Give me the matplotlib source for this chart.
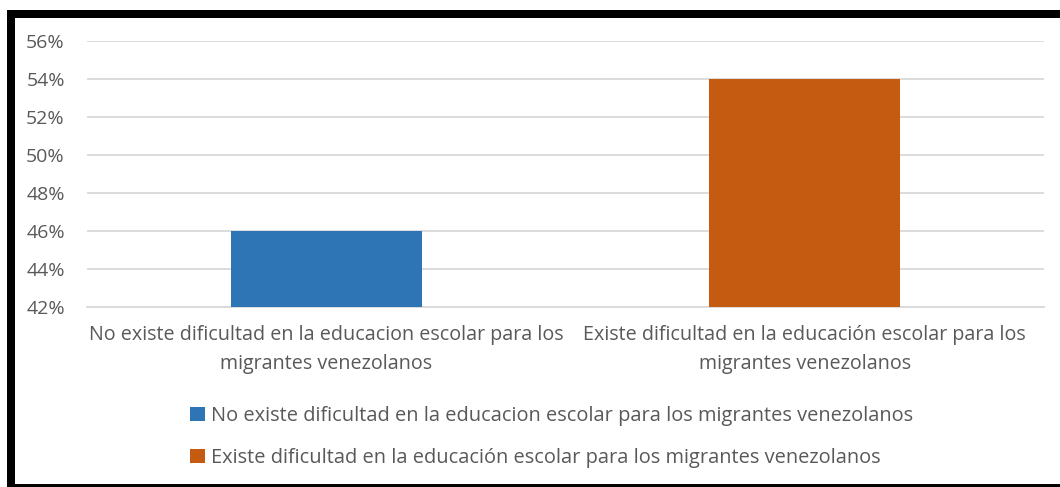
import matplotlib
matplotlib.use("Agg")
import matplotlib.pyplot as plt
from matplotlib.patches import Rectangle, Patch

categories = ["No existe dificultad en la educacion escolar para los\nmigrantes venezolanos",
              "Existe dificultad en la educación escolar para los\nmigrantes venezolanos"]
legend_labels = ["No existe dificultad en la educacion escolar para los migrantes venezolanos",
                 "Existe dificultad en la educación escolar para los migrantes venezolanos"]
values = [0.46, 0.54]
colors = ["#2E75B6", "#C55A11"]
yticks = [0.42, 0.44, 0.46, 0.48, 0.50, 0.52, 0.54, 0.56]

plt.rcParams['font.family'] = ['Open Sans', 'DejaVu Sans']
W, H = 1060, 487
fig = plt.figure(figsize=(W/100, H/100), dpi=100)
ax = fig.add_axes([87/W, 1-307/H, (1044-87)/W, (307-41)/H])

x = list(range(len(values)))
ax.bar(x, [v - 0.42 for v in values], bottom=0.42, width=0.40, color=colors, zorder=3)
ax.set_xlim(-0.5, 1.5)
ax.set_ylim(0.42, 0.56)
ax.set_yticks(yticks)
ax.set_yticklabels([f"{round(t*100)}%" for t in yticks])
ax.set_xticks(x)
ax.set_xticklabels(categories, fontsize=14.2, color="#595959", linespacing=1.6)
ax.tick_params(axis='y', labelsize=14, labelcolor="#595959", length=0, pad=16)
ax.tick_params(axis='x', length=0, pad=13)
ax.grid(axis='y', color="#D9D9D9", linewidth=1.3, zorder=0)
for s in ["top", "right", "left"]:
    ax.spines[s].set_visible(False)
ax.spines["bottom"].set_color("#D9D9D9")
ax.spines["bottom"].set_linewidth(1.3)

handles = [Patch(facecolor=c, edgecolor='none') for c in colors]
fig.legend(handles, legend_labels, loc='center', bbox_to_anchor=(552/W, 1-437/H),
           ncol=1, frameon=False, fontsize=14.4, labelcolor="#595959",
           handlelength=0.75, handleheight=0.75, handletextpad=0.3, labelspacing=1.1)

# black frame
fig.patches.append(Rectangle((7/W, 0), 8/W, 1-10/H, transform=fig.transFigure,
                             facecolor='black', edgecolor='none'))
fig.patches.append(Rectangle((7/W, 1-18/H), 1-7/W, 8/H, transform=fig.transFigure,
                             facecolor='black', edgecolor='none'))
fig.patches.append(Rectangle((7/W, 0), 1-7/W, 3/H, transform=fig.transFigure,
                             facecolor='black', edgecolor='none'))

fig.savefig("out.png", dpi=100)
